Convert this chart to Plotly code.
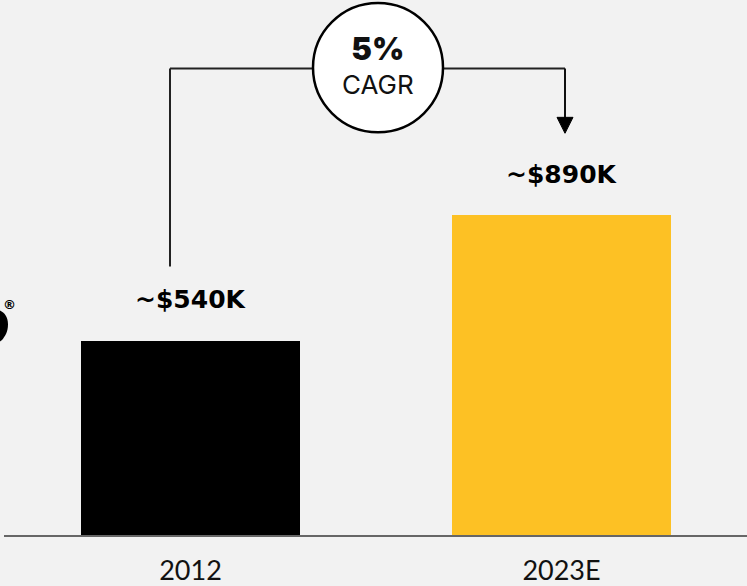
import plotly.graph_objects as go

# Average household net worth, two reference years
categories = ["2012", "2023E"]
values = [540, 890]
value_labels = ["~$540K", "~$890K"]
bar_colors = ["#000000", "#FDC124"]
cagr_value = "5%"
cagr_text = "CAGR"

W, H = 747, 586
ML, MB = 4, 48
PX_PER_CAT = 371.0        # horizontal pixels between category centres
CAT0_PX = 190.5           # pixel x of the first category centre
PX_PER_UNIT = 0.3615      # vertical pixels per $K
BASE_PY = H - MB          # pixel y of the zero line


def dx(px):
    return (px - CAT0_PX) / PX_PER_CAT


def dy(py):
    return (BASE_PY - py) / PX_PER_UNIT


x_pos = list(range(len(categories)))

fig = go.Figure(
    go.Bar(
        x=x_pos,
        y=values,
        marker=dict(color=bar_colors, line=dict(width=0)),
        width=219 / PX_PER_CAT,
        hoverinfo="skip",
    )
)

# value labels above each bar
annotations = []
for xi, v, lab in zip(x_pos, values, value_labels):
    annotations.append(dict(
        x=xi, y=v, xref="x", yref="y", text=lab, showarrow=False,
        yanchor="middle", yshift=41,
        font=dict(family="DejaVu Sans", size=25, color="#000000", weight=700),
    ))

# CAGR bubble and connector
cx, cy, r = 378, 68, 65
line_y = 69
left_px = 170
arrow_px = 565
shapes = [
    dict(type="line", xref="x", yref="y", x0=dx(left_px), x1=dx(left_px),
         y0=dy(268), y1=dy(line_y), line=dict(color="#222222", width=2)),
    dict(type="line", xref="x", yref="y", x0=dx(left_px), x1=dx(arrow_px),
         y0=dy(line_y), y1=dy(line_y), line=dict(color="#222222", width=2)),
    dict(type="line", xref="x", yref="y", x0=dx(arrow_px), x1=dx(arrow_px),
         y0=dy(line_y), y1=dy(120), line=dict(color="#111111", width=2)),
    dict(type="path", xref="x", yref="y",
         path=f"M {dx(arrow_px - 8)},{dy(118)} L {dx(arrow_px + 8)},{dy(118)} "
              f"L {dx(arrow_px)},{dy(134)} Z",
         fillcolor="#000000", line=dict(color="#000000", width=1)),
    dict(type="circle", xref="x", yref="y",
         x0=dx(cx - r), x1=dx(cx + r), y0=dy(cy + r), y1=dy(cy - r),
         fillcolor="#ffffff", line=dict(color="#000000", width=2.5)),
]

annotations.append(dict(
    x=dx(cx), y=dy(65), xref="x", yref="y",
    text=(f'<span style="font-size:31px;font-weight:900">{cagr_value}</span>'
          f'<br>{cagr_text}'),
    showarrow=False, align="center",
    xanchor="center", yanchor="middle",
    font=dict(family="Inter", size=26, color="#111111", weight=400),
))


# partial brand mark at the left edge (paper coordinates)
def px_(px):
    return (px - ML) / (W - ML)


def py_(py):
    return (BASE_PY - py) / BASE_PY


shapes.append(dict(
    type="path", xref="paper", yref="paper",
    path=(f"M {px_(-20)},{py_(326)} "
          f"C {px_(-20)},{py_(306)} {px_(8)},{py_(306)} {px_(8)},{py_(326)} "
          f"C {px_(8)},{py_(334)} {px_(5)},{py_(338)} {px_(2)},{py_(342)} "
          f"L {px_(-4)},{py_(346)} L {px_(-10)},{py_(340)} "
          f"C {px_(-16)},{py_(336)} {px_(-20)},{py_(332)} {px_(-20)},{py_(326)} Z"),
    fillcolor="#000000", line=dict(width=0),
))
annotations.append(dict(
    x=px_(9), y=py_(306), xref="paper", yref="paper", text="®", showarrow=False,
    xanchor="center", yanchor="middle",
    font=dict(family="DejaVu Sans", size=13, color="#000000", weight=700),
))

fig.update_layout(
    width=W, height=H,
    margin=dict(l=ML, r=0, t=0, b=MB, pad=0),
    paper_bgcolor="#F2F2F2",
    plot_bgcolor="#F2F2F2",
    showlegend=False,
    shapes=shapes,
    annotations=annotations,
    bargap=0,
    xaxis=dict(
        range=[dx(ML), dx(W)],
        tickmode="array", tickvals=x_pos, ticktext=categories,
        showgrid=False, zeroline=False,
        showline=True, linecolor="#666666", linewidth=2,
        ticks="outside", ticklen=11, tickcolor="rgba(0,0,0,0)",
        tickfont=dict(family="Lato", size=27, color="#111111"),
        fixedrange=True,
    ),
    yaxis=dict(
        range=[0, dy(0)],
        visible=False, showgrid=False, zeroline=False,
        fixedrange=True,
    ),
)

fig.write_html("out.html")
